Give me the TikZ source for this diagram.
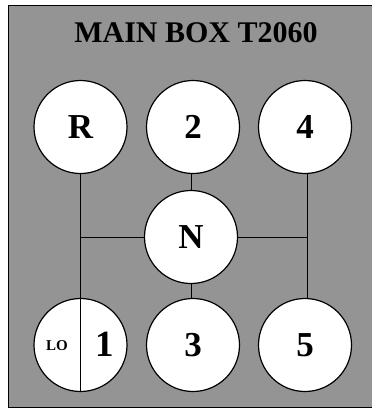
\documentclass[tikz,border=0pt]{standalone}
\usepackage{fontspec}
\setmainfont{Liberation Serif}
\begin{document}
\begin{tikzpicture}[x=1pt,y=-1pt,
  gear/.style={circle,draw=black,line width=1.2pt,fill=white,minimum size=93pt,inner sep=0pt,font=\fontsize{35}{35}\selectfont\bfseries},
  rod/.style={line width=0.9pt}]
\useasboundingbox (0,0) rectangle (372,408);
\fill[black!42] (8,5) rectangle (372,407);
\draw[line width=1pt] (372,5) -- (8,5) -- (8,407) -- (372,407);
\node[font=\fontsize{30}{30}\selectfont\bfseries] (title) at (196,33) {MAIN BOX T2060};
\node[gear] (R) at (80.5,127) {R};
\node[gear] (g2) at (193,127) {2};
\node[gear] (g4) at (305,127) {4};
\node[gear] (N) at (191,237) {N};
\node[gear] (g1) at (80.5,345) {};
\node[gear] (g3) at (193,345) {3};
\node[gear] (g5) at (305,345) {5};
\node[font=\fontsize{15}{15}\selectfont\bfseries] (lo) at (57,346) {LO};
\node[font=\fontsize{37}{37}\selectfont\bfseries] (one) at (105,344) {1};
\coordinate (lbend) at (80.5,237);
\coordinate (rbend) at (307,237);
\coordinate (lend) at (80.5,391);
\draw[rod] (R.south) -- (lend);
\draw[rod] (lbend) -- (N.west);
\draw[rod] (N.east) -- (rbend);
\draw[rod] (g4.south -| rbend) -- (g5.north -| rbend);
\draw[rod] (g2.south -| N.north) -- (N.north);
\draw[rod] (N.south) -- (g3.north -| N.south);
\end{tikzpicture}
\end{document}
